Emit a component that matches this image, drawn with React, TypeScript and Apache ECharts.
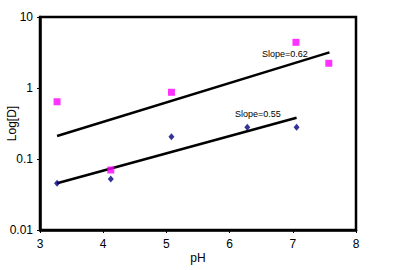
import React, { useEffect, useRef } from "react";
import * as echarts from "echarts";

const xTicks = [3, 4, 5, 6, 7, 8];
const yTickLabels = ["0.01", "0.1", "1", "10"];

const magentaX = [3.27, 4.12, 5.08, 7.05, 7.57];
const magentaY = [0.64, 0.07, 0.87, 4.4, 2.23];

const navyX = [3.27, 4.12, 5.08, 6.28, 7.06];
const navyY = [0.0455, 0.0523, 0.206, 0.279, 0.279];

const trendUpperX = [3.27, 7.58];
const trendUpperY = [0.211, 3.18];
const trendLowerX = [3.27, 7.06];
const trendLowerY = [0.0455, 0.382];

const slopeLabels = ["Slope=0.62", "Slope=0.55"];

const zip = (xs: number[], ys: number[]) => xs.map((x, i) => [x, ys[i]]);

export default function App() {
  const ref = useRef<HTMLDivElement>(null);
  useEffect(() => {
    if (!ref.current) return;
    const chart = echarts.init(ref.current, undefined, { renderer: "svg" });
    const font = "Liberation Sans, Arial, sans-serif";
    chart.setOption({
      animation: false,
      backgroundColor: "#fff",
      grid: {
        left: 40,
        right: 37,
        top: 17,
        bottom: 40,
        containLabel: false,
        outerBoundsMode: "none",
        show: true,
        borderColor: "#000",
        borderWidth: 2.5,
      },
      xAxis: {
        type: "value",
        min: xTicks[0],
        max: xTicks[xTicks.length - 1],
        interval: 1,
        name: "pH",
        nameLocation: "middle",
        nameGap: 22,
        nameMoveOverlap: false,
        nameTextStyle: { fontFamily: font, fontSize: 12, color: "#000" },
        axisLine: { show: true, lineStyle: { color: "#000", width: 2.5 } },
        axisTick: { show: true, length: 3, lineStyle: { color: "#000" } },
        axisLabel: { fontFamily: font, fontSize: 12, color: "#000", margin: 8 },
        splitLine: { show: false },
      },
      yAxis: {
        type: "log",
        logBase: 10,
        min: 0.01,
        max: 10,
        name: "Log[D]",
        nameLocation: "middle",
        nameGap: 22,
        nameMoveOverlap: false,
        nameRotate: 90,
        nameTextStyle: { fontFamily: font, fontSize: 12, color: "#000" },
        axisLine: { show: true, lineStyle: { color: "#000", width: 2.5 } },
        axisTick: { show: true, length: 3, lineStyle: { color: "#000" } },
        axisLabel: {
          fontFamily: font,
          fontSize: 12,
          color: "#000",
          margin: 7,
          formatter: (v: number) => {
            const idx = Math.round(Math.log10(v)) + 2;
            return yTickLabels[idx] ?? String(v);
          },
        },
        splitLine: { show: false },
        minorTick: { show: false },
      },
      series: [
        {
          type: "line",
          data: zip(trendUpperX, trendUpperY),
          showSymbol: false,
          lineStyle: { color: "#000", width: 2.5 },
          z: 2,
        },
        {
          type: "line",
          data: zip(trendLowerX, trendLowerY),
          showSymbol: false,
          lineStyle: { color: "#000", width: 2.5 },
          z: 2,
        },
        {
          type: "scatter",
          data: zip(magentaX, magentaY),
          symbol: "rect",
          symbolSize: 7,
          itemStyle: { color: "#ff00ff" },
          z: 3,
        },
        {
          type: "scatter",
          data: zip(navyX, navyY),
          symbol: "diamond",
          symbolSize: [6, 7],
          itemStyle: { color: "#000080" },
          z: 3,
        },
      ],
      graphic: [
        {
          type: "text",
          x: 262,
          y: 54,
          style: {
            text: slopeLabels[0],
            font: `9px ${font}`,
            fill: "#000",
            textVerticalAlign: "middle",
          },
        },
        {
          type: "text",
          x: 235,
          y: 114,
          style: {
            text: slopeLabels[1],
            font: `9px ${font}`,
            fill: "#000",
            textVerticalAlign: "middle",
          },
        },
      ],
    });
    return () => chart.dispose();
  }, []);
  return <div ref={ref} style={{ width: 393, height: 270, position: "absolute", left: 0, top: 0 }} />;
}
